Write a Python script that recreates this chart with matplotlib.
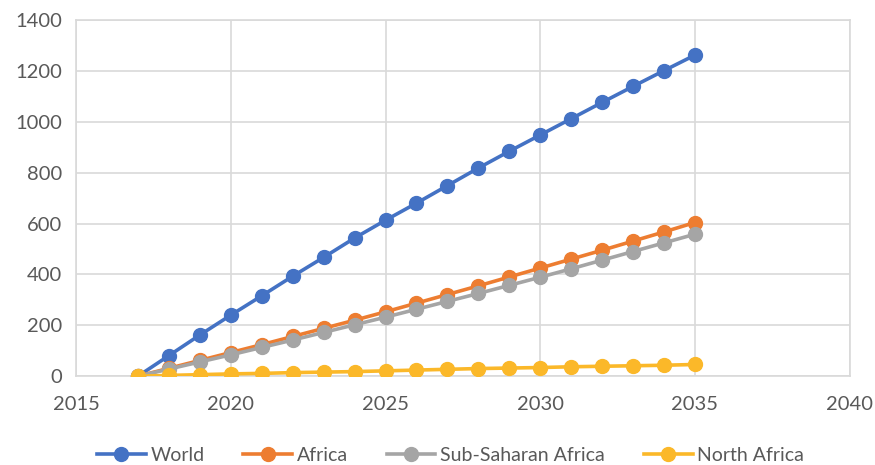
import matplotlib
matplotlib.use('Agg')
import matplotlib.pyplot as plt


years = list(range(2017, 2036))
world = [0, 81, 162, 240, 316, 393, 467, 543, 613, 680, 749, 818, 884, 948,
         1012, 1076, 1139, 1201, 1262]
africa = [0, 31, 62, 93, 124, 156, 188, 220, 253, 287, 321, 355, 390, 425,
          460, 495, 531, 567, 604]
sub_saharan = [0, 28, 56, 84, 113, 142, 172, 202, 232, 263, 294, 325, 357, 389,
               422, 456, 490, 524, 558]
north_africa = [0, 3, 6, 9, 11, 14, 16, 18, 21, 24, 27, 30, 32, 34,
                37, 39, 41, 43, 46]

series = [
    ('World', world, '#4472C4'),
    ('Africa', africa, '#ED7D31'),
    ('Sub-Saharan Africa', sub_saharan, '#A5A5A5'),
    ('North Africa', north_africa, '#FBB829'),
]

plt.rcParams['font.family'] = ['Lato', 'DejaVu Sans']
text_color = '#595959'
grid_color = '#D9D9D9'

fig = plt.figure(figsize=(8.75, 4.65), dpi=100)
ax = fig.add_axes([0.087, 0.191, 0.884, 0.766])

for name, vals, col in series:
    ax.plot(years, vals, color=col, lw=2.6, marker='o', markersize=10,
            label=name, zorder=3)

ax.set_xlim(2015, 2040)
ax.set_ylim(0, 1400)
ax.set_xticks(range(2015, 2041, 5))
ax.set_yticks(range(0, 1401, 200))
ax.grid(True, color=grid_color, lw=1.2)
ax.set_axisbelow(True)
for s in ax.spines.values():
    s.set_color(grid_color)
    s.set_linewidth(1.2)
ax.tick_params(length=0, labelsize=14.5, colors=text_color, pad=10)
ax.tick_params(axis='x', pad=14)

handles, labels = ax.get_legend_handles_labels()
leg = fig.legend(handles, labels, loc='center', bbox_to_anchor=(0.515, 0.02),
                 ncol=4, frameon=False, fontsize=14, handlelength=2.5,
                 columnspacing=2.0, handletextpad=0.25, borderpad=0)
for t in leg.get_texts():
    t.set_color(text_color)

fig.savefig('out.png', dpi=100)
